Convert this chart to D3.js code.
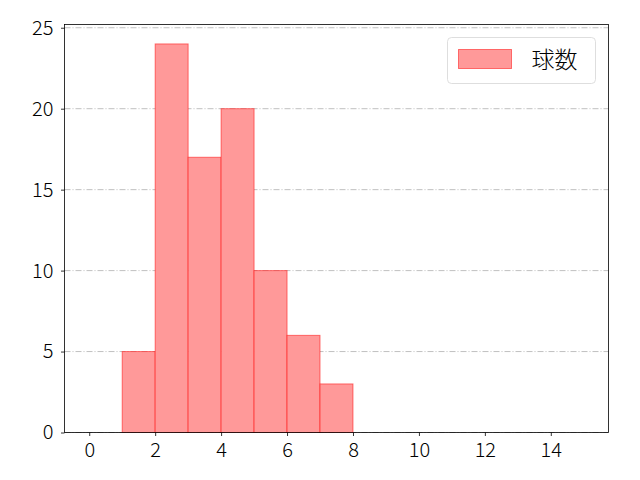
<!DOCTYPE html>
<html>
<head>
<meta charset="utf-8">
<script src="https://cdn.jsdelivr.net/npm/d3@7"></script>
<style>
  body { margin: 0; background: #fff; }
  text { font-family: "Noto Sans CJK JP", "DejaVu Sans", sans-serif; font-weight: 300; }
</style>
</head>
<body>
<div id="chart"></div>
<script>
// histogram bins (lower edge, upper edge) and counts
var binStarts = [0, 1, 2, 3, 4, 5, 6, 7, 8, 9, 10, 11, 12, 13, 14];
var binEnds   = [1, 2, 3, 4, 5, 6, 7, 8, 9, 10, 11, 12, 13, 14, 15];
var counts    = [0, 5, 24, 17, 20, 10, 6, 3, 0, 0, 0, 0, 0, 0, 0];
var xTicks = [0, 2, 4, 6, 8, 10, 12, 14];
var yTicks = [0, 5, 10, 15, 20, 25];
var seriesName = "球数";

var margin = {top: 24.5, right: 31.5, bottom: 47.5, left: 64.5},
    width = 640 - margin.left - margin.right,
    height = 480 - margin.top - margin.bottom;

var data = binStarts.map(function(s, i) { return {x0: s, x1: binEnds[i], value: counts[i]}; });

var svg = d3.select("#chart")
    .append("svg")
    .attr("width", 640)
    .attr("height", 480)
    .append("g")
    .attr("transform", "translate(" + margin.left + "," + margin.top + ")");

var x = d3.scaleLinear().domain([-0.75, 15.75]).range([0, width]);
var y = d3.scaleLinear().domain([0, 25.2]).range([height, 0]);

// grid
svg.append("g")
    .selectAll("line")
    .data(yTicks)
    .enter()
    .append("line")
    .attr("x1", 0)
    .attr("x2", width)
    .attr("y1", function(d) { return y(d); })
    .attr("y2", function(d) { return y(d); })
    .attr("stroke", "#b0b0b0")
    .attr("stroke-width", 0.8)
    .attr("stroke-dasharray", "6,2,1,2");

// bars
svg.selectAll("rect.bar")
    .data(data.filter(function(d) { return d.value > 0; }))
    .enter()
    .append("rect")
    .attr("class", "bar")
    .attr("x", function(d) { return x(d.x0); })
    .attr("y", function(d) { return y(d.value); })
    .attr("width", function(d) { return x(d.x1) - x(d.x0); })
    .attr("height", function(d) { return height - y(d.value); })
    .attr("fill", "#ff9999")
    .attr("stroke", "rgba(255,0,0,0.5)")
    .attr("stroke-width", 1);

// axes
var xAxis = svg.append("g")
    .attr("transform", "translate(0," + height + ")")
    .call(d3.axisBottom(x).tickValues(xTicks).tickSize(3.5).tickPadding(6.5).tickFormat(d3.format("d")));
var yAxis = svg.append("g")
    .call(d3.axisLeft(y).tickValues(yTicks).tickSize(3.5).tickPadding(7.5).tickFormat(d3.format("d")));
[xAxis, yAxis].forEach(function(a) {
    a.select(".domain").remove();
    a.selectAll("text").style("font-size", "20px").attr("fill", "#000");
    a.selectAll("line").attr("stroke", "#000").attr("stroke-width", 0.8);
});

// frame
svg.append("rect")
    .attr("width", width)
    .attr("height", height)
    .attr("fill", "none")
    .attr("stroke", "#000")
    .attr("stroke-width", 0.8);

// legend
var legend = svg.append("g").attr("transform", "translate(" + (447.5 - margin.left) + "," + (37.5 - margin.top) + ")");
legend.append("rect")
    .attr("width", 148)
    .attr("height", 46)
    .attr("rx", 4)
    .attr("fill", "rgba(255,255,255,0.8)")
    .attr("stroke", "#d5d5d5")
    .attr("stroke-width", 0.8);
legend.append("rect")
    .attr("x", 11)
    .attr("y", 12)
    .attr("width", 53)
    .attr("height", 19)
    .attr("fill", "#ff9999")
    .attr("stroke", "rgba(255,0,0,0.5)");
legend.append("text")
    .attr("x", 84)
    .attr("y", 30)
    .style("font-size", "23px")
    .attr("fill", "#000")
    .text(seriesName);
</script>
</body>
</html>
